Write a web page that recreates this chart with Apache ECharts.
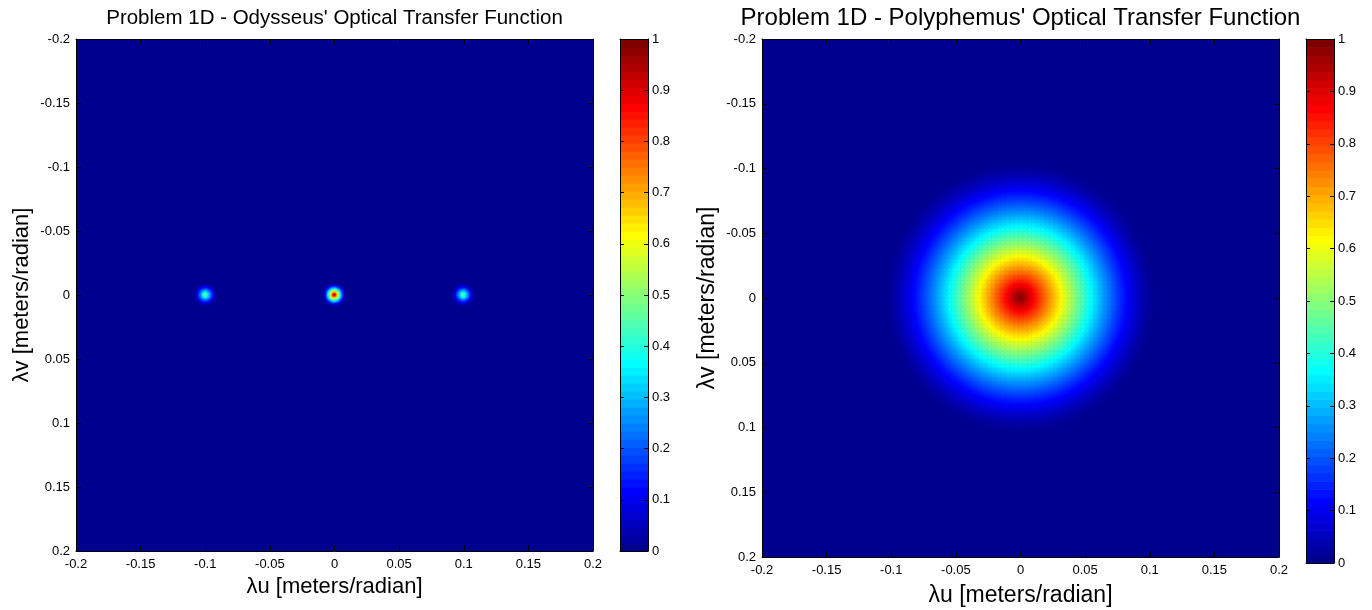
<!DOCTYPE html>
<html><head><meta charset="utf-8">
<script src="https://cdn.jsdelivr.net/npm/echarts@6/dist/echarts.min.js"></script>
<style>html,body{margin:0;padding:0;background:#fff}#c{width:1372px;height:610px}</style>
</head><body><div id="c"></div>
<script>
// ---------------- data ----------------
const axisTickValues = [-0.2, -0.15, -0.1, -0.05, 0, 0.05, 0.1, 0.15, 0.2];
const axisTickLabels = ['-0.2', '-0.15', '-0.1', '-0.05', '0', '0.05', '0.1', '0.15', '0.2'];
const colorbarTickValues = [0, 0.1, 0.2, 0.3, 0.4, 0.5, 0.6, 0.7, 0.8, 0.9, 1];
const colorbarTickLabels = ['0', '0.1', '0.2', '0.3', '0.4', '0.5', '0.6', '0.7', '0.8', '0.9', '1'];
const titles = ["Problem 1D - Odysseus' Optical Transfer Function", "Problem 1D - Polyphemus' Optical Transfer Function"];
const xLabel = 'λu [meters/radian]';
const yLabel = 'λv [meters/radian]';
const sampleStep = 0.001;          // grid spacing of the images (meters/radian)
const axisMin = -0.2, axisMax = 0.2;
// Odysseus: three small peaks along the λu axis
const odysseusPeakU = [-0.1, 0, 0.1];
const odysseusPeakV = [0, 0, 0];
const odysseusPeakAmp = [0.5, 1, 0.5];
const odysseusPeakCutoff = 0.009;
// radial profile, read at rho = r/cutoff = 0, 0.1, ..., 1
const odysseusProfile = [1, 0.873, 0.747, 0.624, 0.505, 0.391, 0.285, 0.188, 0.104, 0.037, 0];
// Polyphemus: one broad disc centred at the origin
const polyphemusCenterU = 0, polyphemusCenterV = 0;
const polyphemusCutoff = 0.105;
// radial profile, read at rho = 0, 0.05, ..., 1
const polyphemusProfile = [1, 0.936, 0.873, 0.810, 0.747, 0.685, 0.624, 0.564, 0.505, 0.447, 0.391,
                           0.337, 0.285, 0.235, 0.188, 0.144, 0.104, 0.068, 0.037, 0.013, 0];

// ---------------- helpers ----------------
function jetMap(m) {
  const q = Math.ceil(m / 4), u = [];
  for (let k = 1; k <= q; k++) u.push(k / q);
  for (let k = 0; k < q - 1; k++) u.push(1);
  for (let k = q; k >= 1; k--) u.push(k / q);
  const g0 = Math.ceil(q / 2) - (m % 4 === 1 ? 1 : 0);
  const R = new Array(m).fill(0), G = new Array(m).fill(0), B = new Array(m).fill(0);
  for (let k = 0; k < u.length; k++) {
    const g = g0 + k + 1, r = g + q, b = g - q;
    if (g >= 1 && g <= m) G[g - 1] = u[k];
    if (r >= 1 && r <= m) R[r - 1] = u[k];
    if (b >= 1 && b <= m) B[b - 1] = u[k];
  }
  const h = v => Math.round(v * 255).toString(16).padStart(2, '0');
  return R.map((_, i) => '#' + h(R[i]) + h(G[i]) + h(B[i]));
}
const jet = jetMap(64);
const nCells = Math.round((axisMax - axisMin) / sampleStep) + 1;
const cats = [];
for (let i = 0; i < nCells; i++) cats.push((axisMin + i * sampleStep).toFixed(3));
function profileAt(profile, rho) {
  if (rho >= 1) return 0;
  const t = rho * (profile.length - 1), k = Math.floor(t), f = t - k;
  return profile[k] * (1 - f) + profile[k + 1] * f;
}
function discCells(cu, cv, amp, cutoff, profile, store) {
  const ci = Math.round((cu - axisMin) / sampleStep), cj = Math.round((cv - axisMin) / sampleStep);
  const span = Math.ceil(cutoff / sampleStep) + 1;
  for (let i = ci - span; i <= ci + span; i++) {
    for (let j = cj - span; j <= cj + span; j++) {
      if (i < 0 || j < 0 || i >= nCells || j >= nCells) continue;
      const du = (i - ci) * sampleStep, dv = (j - cj) * sampleStep;
      const v = amp * profileAt(profile, Math.sqrt(du * du + dv * dv) / cutoff);
      if (v > 0.003) store.push([i, j, v]);
    }
  }
}
const odysseusData = [];
for (let p = 0; p < odysseusPeakU.length; p++)
  discCells(odysseusPeakU[p], odysseusPeakV[p], odysseusPeakAmp[p], odysseusPeakCutoff, odysseusProfile, odysseusData);
const polyphemusData = [];
discCells(polyphemusCenterU, polyphemusCenterV, 1, polyphemusCutoff, polyphemusProfile, polyphemusData);

function tickLabel(v, vals, labs) {
  let best = 0;
  for (let i = 0; i < vals.length; i++) if (Math.abs(vals[i] - v) < Math.abs(vals[best] - v)) best = i;
  return labs[best];
}

// ---------------- layout ----------------
const FONT = '"Liberation Sans", Arial, Helvetica, sans-serif';
const L = { left: 76, top: 39, width: 517, height: 512 };
const Rr = { left: 762, top: 39, width: 517, height: 518 };
const CBL = { left: 620, top: 39, width: 28, height: 512 };
const CBR = { left: 1306, top: 39, width: 28, height: 524 };

const black = { color: '#000', width: 1 };
function valAxisX(gi, pos, labels) {
  return {
    gridIndex: gi, type: 'value', min: axisMin, max: axisMax, interval: 0.05, position: pos, z: 5,
    axisLine: { show: true, onZero: false, lineStyle: black },
    axisTick: { show: true, inside: true, length: 5, lineStyle: black },
    splitLine: { show: false },
    axisLabel: { show: labels, color: '#000', fontFamily: FONT, fontSize: 13, margin: 7,
      formatter: v => tickLabel(v, axisTickValues, axisTickLabels) }
  };
}
function valAxisY(gi, pos, labels) {
  return {
    gridIndex: gi, type: 'value', min: axisMin, max: axisMax, interval: 0.05, inverse: true, position: pos, z: 5,
    axisLine: { show: true, onZero: false, lineStyle: black },
    axisTick: { show: true, inside: true, length: 5, lineStyle: black },
    splitLine: { show: false },
    axisLabel: { show: labels, color: '#000', fontFamily: FONT, fontSize: 13, margin: 6,
      formatter: v => tickLabel(v, axisTickValues, axisTickLabels) }
  };
}
function catAxis(gi, inverse) {
  return { gridIndex: gi, type: 'category', data: cats, inverse: inverse, show: false, boundaryGap: true };
}
function cbX(gi) {
  return { gridIndex: gi, type: 'value', min: 0, max: 1, position: 'bottom', z: 5,
    axisLine: { show: true, onZero: false, lineStyle: black }, axisTick: { show: false },
    axisLabel: { show: false }, splitLine: { show: false } };
}
function cbXTop(gi) {
  return Object.assign(cbX(gi), { position: 'top' });
}
function cbY(gi, pos, labels) {
  return { gridIndex: gi, type: 'value', min: 0, max: 1, interval: 0.1, position: pos, z: 5,
    axisLine: { show: true, onZero: false, lineStyle: black },
    axisTick: { show: true, inside: true, length: 4, lineStyle: black },
    splitLine: { show: false },
    axisLabel: { show: labels, color: '#000', fontFamily: FONT, fontSize: 13, margin: 4,
      formatter: v => tickLabel(v, colorbarTickValues, colorbarTickLabels) } };
}
function colorbarSeries(xi, yi) {
  return {
    type: 'custom', xAxisIndex: xi, yAxisIndex: yi, silent: true, animation: false, z: 3,
    data: jet.map((c, k) => [0.5, (k + 0.5) / jet.length, k]),
    renderItem: (params, api) => {
      const k = api.value(2);
      const p0 = api.coord([0, k / jet.length]);
      const p1 = api.coord([1, (k + 1) / jet.length]);
      return { type: 'rect', shape: { x: p0[0], y: p1[1], width: p1[0] - p0[0], height: p0[1] - p1[1] + 0.6 },
        style: { fill: jet[k] } };
    }
  };
}

const option = {
  animation: false,
  backgroundColor: '#fff',
  grid: [
    Object.assign({ show: true, backgroundColor: jet[0], borderWidth: 0 }, L),
    Object.assign({ show: false }, L),
    Object.assign({ show: true, backgroundColor: jet[0], borderWidth: 0 }, Rr),
    Object.assign({ show: false }, Rr),
    Object.assign({ show: false }, CBL),
    Object.assign({ show: false }, CBR)
  ],
  xAxis: [
    catAxis(0, false), valAxisX(1, 'bottom', true), valAxisX(1, 'top', false),
    catAxis(2, false), valAxisX(3, 'bottom', true), valAxisX(3, 'top', false),
    cbX(4), cbXTop(4), cbX(5), cbXTop(5)
  ],
  yAxis: [
    catAxis(0, true), valAxisY(1, 'left', true), valAxisY(1, 'right', false),
    catAxis(2, true), valAxisY(3, 'left', true), valAxisY(3, 'right', false),
    cbY(4, 'right', true), cbY(4, 'left', false), cbY(5, 'right', true), cbY(5, 'left', false)
  ],
  visualMap: {
    type: 'continuous', show: false, min: 0, max: 1, seriesIndex: [0, 1], inRange: { color: jet }
  },
  series: [
    { type: 'heatmap', xAxisIndex: 0, yAxisIndex: 0, data: odysseusData, progressive: 0, silent: true },
    { type: 'heatmap', xAxisIndex: 3, yAxisIndex: 3, data: polyphemusData, progressive: 0, silent: true },
    { type: 'scatter', xAxisIndex: 1, yAxisIndex: 1, data: [] },
    { type: 'scatter', xAxisIndex: 4, yAxisIndex: 4, data: [] },
    colorbarSeries(6, 6),
    colorbarSeries(8, 8)
  ],
  graphic: [
    { type: 'text', x: 334.5, y: 18, style: { text: titles[0], font: '20.5px ' + FONT, fill: '#000', align: 'center', verticalAlign: 'middle' } },
    { type: 'text', x: 1020.5, y: 18, style: { text: titles[1], font: '24px ' + FONT, fill: '#000', align: 'center', verticalAlign: 'middle' } },
    { type: 'text', x: 334.5, y: 587, style: { text: xLabel, font: '22px ' + FONT, fill: '#000', align: 'center', verticalAlign: 'middle' } },
    { type: 'text', x: 1020.5, y: 596, style: { text: xLabel, font: '23px ' + FONT, fill: '#000', align: 'center', verticalAlign: 'middle' } },
    { type: 'text', x: 22, y: 295, rotation: Math.PI / 2, style: { text: yLabel, font: '22px ' + FONT, fill: '#000', align: 'center', verticalAlign: 'middle' } },
    { type: 'text', x: 708, y: 298, rotation: Math.PI / 2, style: { text: yLabel, font: '23px ' + FONT, fill: '#000', align: 'center', verticalAlign: 'middle' } }
  ]
};
const chart = echarts.init(document.getElementById('c'), null, { renderer: 'canvas' });
chart.setOption(option);
</script>
</body></html>
